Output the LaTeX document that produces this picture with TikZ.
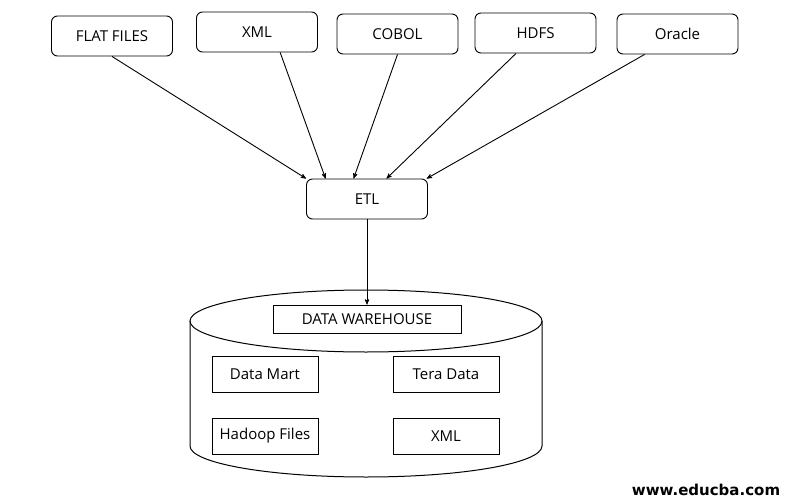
\documentclass[tikz,border=0pt]{standalone}
\usepackage{fontspec}
\setmainfont{Open Sans}
\newfontfamily\markfont{DejaVu Sans}
\usepackage{tikz}
\usetikzlibrary{calc}
\usetikzlibrary{arrows}
\tikzset{srcbox/.style={draw, line width=0.9pt, rounded corners=6pt, minimum width=121pt, minimum height=40pt, inner sep=0, font=\fontsize{15}{17}\selectfont}}
\tikzset{storebox/.style={draw, line width=0.9pt, minimum width=106pt, minimum height=36pt, inner sep=0, font=\fontsize{15}{17}\selectfont}}

\begin{document}
\begin{tikzpicture} [x=1pt,y=-1pt]
\useasboundingbox (0,0) rectangle (792,500);
% sources
\foreach \name/\x/\y/\txt in {flat/112/36/FLAT FILES, xml/257/32/XML, cobol/397.5/34/COBOL, hdfs/535.5/33/HDFS, oracle/677.5/34/Oracle} {
 \node[srcbox] (\name) at (\x,\y) {\txt};
}
\node[srcbox] (etl) at (367,199) {ETL};
\foreach \name/\s/\t in {flat/0.5/0.0, xml/0.69/0.16, cobol/0.5/0.39, hdfs/0.34/0.66, oracle/0.23/0.99} {
 \draw[black,line width=0.9pt,->,>=stealth'] ($(\name.south west)!\s!(\name.south east)$) -- ($(etl.north west)!\t!(etl.north east)$);
}
% warehouse cylinder
\draw[black,line width=1pt] (366,321) ellipse [x radius=176, y radius=31];
\draw[black,line width=1pt] (190,321) -- (190,446) arc (180:0:176 and 31) -- (542,321);
\node[storebox, minimum width=188pt, minimum height=28pt] (dw) at (367,319) {DATA WAREHOUSE};
\draw[black,line width=0.9pt,->,>=stealth'] (etl.south) -- (dw.north);
\node[storebox] (mart) at (265,374.5) {Data Mart};
\node[storebox] (tera) at (446,374.5) {Tera Data};
\node[storebox] (hadoop) at (265,436) {Hadoop Files};
\node[storebox] (xmlfile) at (446,436) {XML};
\node[anchor=base, inner sep=0, font=\markfont\bfseries\fontsize{15}{17}\selectfont] (mark) at (706,495) {www.educba.com};
\end{tikzpicture}
\end{document}
